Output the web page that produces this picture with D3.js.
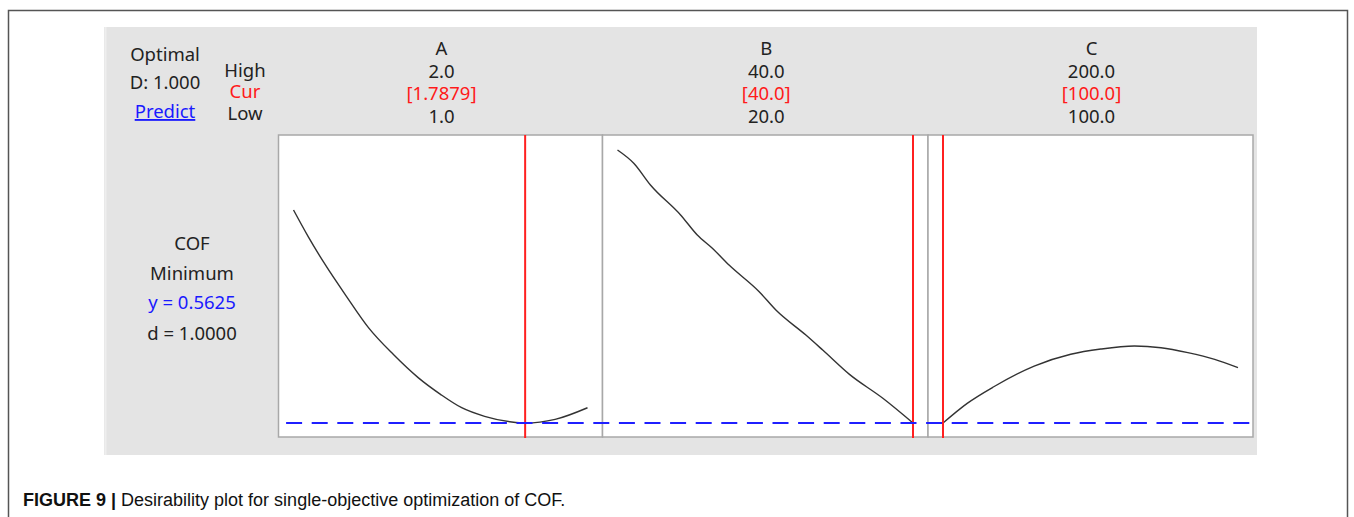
<!DOCTYPE html>
<html>
<head>
<meta charset="utf-8">
<script src="https://cdn.jsdelivr.net/npm/d3@7"></script>
<style>
  body { margin: 0; background: #fff; }
  svg text { font-family: "Noto Sans", sans-serif; }
</style>
</head>
<body>
<svg id="chart" width="1354" height="517"></svg>
<script>
// factor settings
const factors = ['A', 'B', 'C'];
const highLabels = ['2.0', '40.0', '200.0'];
const curLabels = ['[1.7879]', '[40.0]', '[100.0]'];
const lowLabels = ['1.0', '20.0', '100.0'];
const lowVals = [1, 20, 100];
const highVals = [2, 40, 200];
const curVals = [1.7879, 40, 100];

// predicted COF along each factor
const aX = [1.0, 1.05, 1.108, 1.18, 1.255, 1.34, 1.425, 1.5, 1.572, 1.65, 1.742, 1.7879, 1.89, 2.0];
const aY = [0.7088, 0.6905, 0.6712, 0.6495, 0.6280, 0.6095, 0.5935, 0.5822, 0.5730, 0.5671, 0.5632, 0.5625, 0.5650, 0.5730];
const bX = [20.0, 21.1, 22.23, 24.27, 25.4, 26.42, 27.55, 29.59, 30.72, 32.75, 33.89, 35.7, 37.96, 40.0];
const bY = [0.7500, 0.7409, 0.7260, 0.7054, 0.6916, 0.6825, 0.6710, 0.6527, 0.6401, 0.6229, 0.6126, 0.5959, 0.5795, 0.5625];
const cX = [100, 108.2, 117.2, 130.9, 143.3, 153.5, 164.9, 173.9, 183.0, 192.1, 200];
const cY = [0.5625, 0.5760, 0.5874, 0.6016, 0.6097, 0.6133, 0.6154, 0.6142, 0.6108, 0.6062, 0.6005];
const curveX = [aX, bX, cX];
const curveY = [aY, bY, cY];

const yOpt = 0.5625;
const dOpt = '1.0000';
const Dval = '1.000';

const svg = d3.select('#chart');

// outer figure frame
svg.append('rect')
  .attr('x', 8.5).attr('y', 10.5)
  .attr('width', 1339).attr('height', 520)
  .attr('fill', 'none').attr('stroke', '#555').attr('stroke-width', 1.5);

// grey background of the plot
svg.append('rect')
  .attr('x', 104).attr('y', 27)
  .attr('width', 1153).attr('height', 428)
  .attr('fill', '#e4e4e4');
svg.append('line')
  .attr('x1', 105.5).attr('x2', 105.5).attr('y1', 27).attr('y2', 455)
  .attr('stroke', '#eeeeee').attr('stroke-width', 2);

const panelLefts = [278.5, 602.5, 928];
const panelRights = [602.5, 928, 1253];
const plotTop = 135, plotBottom = 437;
const pad = 15;

const y = d3.scaleLinear().domain([0.5529, 0.7603]).range([plotBottom, plotTop]);

// left labels
const left = svg.append('g').attr('font-size', 18.5).attr('text-anchor', 'middle');
left.append('text').attr('x', 165).attr('y', 61).attr('fill', '#222').text('Optimal');
left.append('text').attr('x', 165).attr('y', 89).attr('fill', '#222').text('D: ' + Dval);
left.append('text').attr('x', 165).attr('y', 118).attr('fill', '#1a1aff')
  .attr('text-decoration', 'underline').text('Predict');
left.append('text').attr('x', 245).attr('y', 77).attr('fill', '#222').text('High');
left.append('text').attr('x', 245).attr('y', 98).attr('fill', '#ff1a1a').text('Cur');
left.append('text').attr('x', 245).attr('y', 120).attr('fill', '#222').text('Low');

left.append('text').attr('x', 192).attr('y', 250).attr('fill', '#222').text('COF');
left.append('text').attr('x', 192).attr('y', 280).attr('fill', '#222').text('Minimum');
left.append('text').attr('x', 192).attr('y', 309).attr('fill', '#1a1aff').text('y = ' + yOpt.toFixed(4));
left.append('text').attr('x', 192).attr('y', 340).attr('fill', '#222').text('d = ' + dOpt);

// panels
factors.forEach((f, i) => {
  const x = d3.scaleLinear()
    .domain([lowVals[i], highVals[i]])
    .range([panelLefts[i] + pad, panelRights[i] - pad]);
  const cx = (panelLefts[i] + panelRights[i]) / 2 + 1;

  const head = svg.append('g').attr('font-size', 18.5).attr('text-anchor', 'middle');
  head.append('text').attr('x', cx).attr('y', 55).attr('fill', '#222').text(f);
  head.append('text').attr('x', cx).attr('y', 78).attr('fill', '#222').text(highLabels[i]);
  head.append('text').attr('x', cx).attr('y', 100).attr('fill', '#ff1a1a').text(curLabels[i]);
  head.append('text').attr('x', cx).attr('y', 123).attr('fill', '#222').text(lowLabels[i]);

  svg.append('rect')
    .attr('x', panelLefts[i]).attr('y', plotTop)
    .attr('width', panelRights[i] - panelLefts[i]).attr('height', plotBottom - plotTop)
    .attr('fill', '#fff').attr('stroke', '#a8a8a8').attr('stroke-width', 1.5);

  const pts = curveX[i].map((v, k) => [v, curveY[i][k]]);
  svg.append('path')
    .datum(pts)
    .attr('fill', 'none')
    .attr('stroke', '#333')
    .attr('stroke-width', 1.4)
    .attr('d', d3.line().x(d => x(d[0])).y(d => y(d[1])).curve(d3.curveMonotoneX));

  svg.append('line')
    .attr('x1', x(curVals[i])).attr('x2', x(curVals[i]))
    .attr('y1', plotTop).attr('y2', plotBottom + 1)
    .attr('stroke', '#ff2020').attr('stroke-width', 2);
});

// optimum response line
svg.append('line')
  .attr('x1', panelLefts[0]).attr('x2', panelRights[2])
  .attr('y1', y(yOpt)).attr('y2', y(yOpt))
  .attr('stroke', '#1f1fff').attr('stroke-width', 2)
  .attr('stroke-dasharray', '16,9.6')
  .attr('stroke-dashoffset', 18);

// caption
const cap = svg.append('text')
  .attr('x', 23).attr('y', 506)
  .attr('font-size', 18)
  .attr('fill', '#111')
  .style('font-family', '"Liberation Sans", Arial, sans-serif');
cap.append('tspan').attr('font-weight', 'bold').text('FIGURE 9 | ');
cap.append('tspan').text('Desirability plot for single-objective optimization of COF.');
</script>
</body>
</html>
